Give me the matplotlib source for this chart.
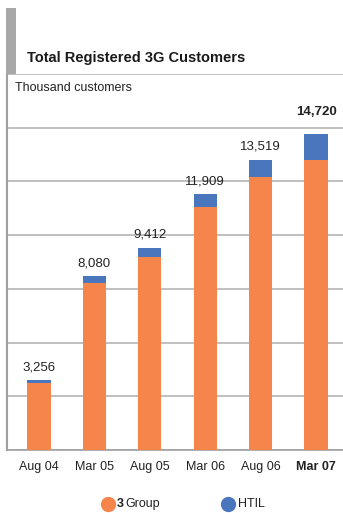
import matplotlib.pyplot as plt
from matplotlib.lines import Line2D
from matplotlib.patches import Rectangle

# Data (thousand customers)
periods = ['Aug 04', 'Mar 05', 'Aug 05', 'Mar 06', 'Aug 06', 'Mar 07']
totals = [3256, 8080, 9412, 11909, 13519, 14720]
htil = [125, 325, 420, 605, 820, 1210]
group3 = [t - h for t, h in zip(totals, htil)]
total_labels = ['3,256', '8,080', '9,412', '11,909', '13,519', '14,720']

orange = '#F5854A'
blue = '#4A76BD'
grey = '#B4B4B4'

plt.rcParams['font.family'] = ['Liberation Sans', 'DejaVu Sans']

fig = plt.figure(figsize=(3.43, 5.13), dpi=100)
ax = fig.add_axes([7 / 343, 1 - 450 / 513, 336 / 343, 376 / 513])

x = range(len(periods))
ax.bar(x, group3, width=0.42, color=orange, zorder=3)
ax.bar(x, htil, bottom=group3, width=0.42, color=blue, zorder=3)

for i, (t, lab) in enumerate(zip(totals, total_labels)):
    last = i == len(totals) - 1
    ax.annotate(lab, (i, t), xytext=(0, 11 if last else 5), textcoords='offset points',
                ha='center', va='bottom', fontsize=9.5,
                fontweight='bold' if last else 'normal', color='#222222')

ax.set_xlim(-0.578, 5.487)
ax.set_ylim(0, 17500)
ax.set_yticks(range(0, 17501, 2500))
ax.set_yticklabels([])
ax.tick_params(axis='y', length=0)
ax.tick_params(axis='x', length=0, pad=8)
ax.set_xticks(list(x))
ax.set_xticklabels(periods, fontsize=9, color='#222222')
ax.get_xticklabels()[-1].set_fontweight('bold')
ax.grid(axis='y', color=grey, linewidth=1.2, zorder=0)

for side in ['top', 'right']:
    ax.spines[side].set_visible(False)
ax.spines['left'].set_color('#A0A0A0')
ax.spines['left'].set_linewidth(1.5)
ax.spines['bottom'].set_color('#A0A0A0')
ax.spines['bottom'].set_linewidth(1.2)

# grey bar beside title
fig.add_artist(Rectangle((6 / 343, 1 - 74 / 513), 10 / 343, 66 / 513,
                         transform=fig.transFigure, color='#A8A8A8', lw=0))

fig.text(27 / 343, 1 - 58 / 513, 'Total Registered 3G Customers', fontsize=10.5,
         fontweight='bold', va='center', color='#1a1a1a')
fig.text(15 / 343, 1 - 88 / 513, 'Thousand customers', fontsize=9,
         va='center', color='#222222')

# legend
ly = 1 - 504 / 513
fig.add_artist(Line2D([108 / 343], [ly], marker='o', markersize=10, color=orange,
                      transform=fig.transFigure))
fig.text(117 / 343, ly, '3', fontsize=9, fontweight='bold', va='center', color='#222222')
fig.text(125 / 343, ly, 'Group', fontsize=9, va='center', color='#222222')
fig.add_artist(Line2D([228 / 343], [ly], marker='o', markersize=10, color=blue,
                      transform=fig.transFigure))
fig.text(238 / 343, ly, 'HTIL', fontsize=9, va='center', color='#222222')

fig.savefig('out.png', dpi=100)
